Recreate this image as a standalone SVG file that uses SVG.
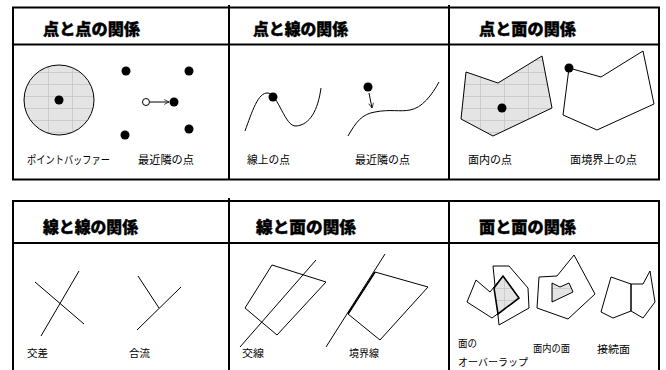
<svg xmlns="http://www.w3.org/2000/svg" width="666" height="370" viewBox="0 0 666 370">
<style>
.frame{fill:none;stroke:#000;stroke-width:2}
.title{font-family:"Noto Sans CJK JP","Liberation Sans",sans-serif;font-weight:900;font-size:16px;fill:#000;stroke:#000;stroke-width:0.4}
.lbl{font-family:"Liberation Sans","Noto Sans CJK JP",sans-serif;font-size:11px;fill:#000}
.lbl2{font-family:"Liberation Sans","Noto Sans CJK JP",sans-serif;font-size:10px;fill:#000}
.ln{fill:none;stroke:#000;stroke-width:1}
.shade{fill:url(#grid);stroke:#000;stroke-width:1}
.dot{fill:#000}
</style>
<defs>
<pattern id="grid" patternUnits="userSpaceOnUse" width="24" height="12">
<rect width="24" height="12" fill="#e4e4e4"/>
<path d="M0,0.5H24M0.5,0V12" stroke="#bcbcbc" stroke-width="0.6"/>
</pattern>
<marker id="arr" viewBox="0 0 10 10" refX="9" refY="5" markerWidth="6" markerHeight="6" orient="auto" markerUnits="userSpaceOnUse">
<path d="M1,1L9,5L1,9" fill="none" stroke="#000" stroke-width="1.2"/>
</marker>
</defs>
<rect width="666" height="370" fill="#fff"/>

<g id="frames">
<rect class="frame" x="13" y="7.5" width="646" height="172"/>
<line class="frame" x1="13" y1="44.5" x2="659" y2="44.5"/>
<line class="frame" x1="229" y1="5" x2="229" y2="179.5"/>
<line class="frame" x1="449" y1="5" x2="449" y2="179.5"/>
<path class="frame" d="M13,372V201H659V372"/>
<line class="frame" x1="13" y1="243" x2="659" y2="243"/>
<line class="frame" x1="229" y1="198" x2="229" y2="372"/>
<line class="frame" x1="449" y1="201" x2="449" y2="372"/>
</g>

<g id="point-point">
<text class="title" x="43" y="35" textLength="97" lengthAdjust="spacingAndGlyphs">点と点の関係</text>
<circle cx="59" cy="100" r="35" class="shade"/>
<circle class="dot" cx="59" cy="100" r="4.5"/>
<circle class="dot" cx="126" cy="71" r="4.5"/>
<circle class="dot" cx="189" cy="71" r="4.5"/>
<circle class="dot" cx="174" cy="102" r="4.5"/>
<circle class="dot" cx="189" cy="129" r="4.5"/>
<circle class="dot" cx="125" cy="135" r="4.5"/>
<circle cx="146" cy="102" r="3.5" fill="#fff" stroke="#000" stroke-width="1"/>
<text class="lbl" x="27" y="164" textLength="83" lengthAdjust="spacingAndGlyphs">ポイントバッファー</text>
<text class="lbl" x="138" y="164" textLength="56" lengthAdjust="spacingAndGlyphs">最近隣の点</text>
</g>

<g id="point-line">
<text class="title" x="253" y="35" textLength="95" lengthAdjust="spacingAndGlyphs">点と線の関係</text>
<path class="ln" d="M245,131 C252,112 258,92 268,93 C278,94 285,127 296,126 C310,125 318,110 321,88"/>
<circle class="dot" cx="273" cy="97" r="4.5"/>
<path class="ln" d="M348,136 C356,122 362,114 375,112 C390,109 400,112 410,110 C422,108 432,95 439,82"/>
<circle class="dot" cx="368" cy="87" r="4.5"/>
<text class="lbl" x="247" y="164" textLength="43" lengthAdjust="spacingAndGlyphs">線上の点</text>
<text class="lbl" x="355" y="164" textLength="55" lengthAdjust="spacingAndGlyphs">最近隣の点</text>
</g>

<g id="point-area">
<text class="title" x="479" y="35" textLength="97" lengthAdjust="spacingAndGlyphs">点と面の関係</text>
<polygon class="shade" points="466,72 498,83 542,56 552,108 493,136 461,119"/>
<circle class="dot" cx="502" cy="108" r="4.5"/>
<polygon class="ln" points="569,68 601,77 643,51 654,104 597,130 563,115"/>
<circle class="dot" cx="569" cy="68" r="4.5"/>
<text class="lbl" x="468" y="164" textLength="44" lengthAdjust="spacingAndGlyphs">面内の点</text>
<text class="lbl" x="570" y="164" textLength="67" lengthAdjust="spacingAndGlyphs">面境界上の点</text>
</g>

<g id="line-line">
<text class="title" x="43" y="233" textLength="95" lengthAdjust="spacingAndGlyphs">線と線の関係</text>
<line class="ln" x1="35" y1="282" x2="84" y2="324"/>
<line class="ln" x1="79" y1="271" x2="41" y2="336"/>
<line class="ln" x1="138" y1="276" x2="159" y2="308"/>
<line class="ln" x1="181" y1="287" x2="137" y2="330"/>
<text class="lbl2" x="27" y="357" textLength="21" lengthAdjust="spacingAndGlyphs">交差</text>
<text class="lbl2" x="129" y="357" textLength="21" lengthAdjust="spacingAndGlyphs">合流</text>
</g>

<g id="line-area">
<text class="title" x="256" y="233" textLength="100" lengthAdjust="spacingAndGlyphs">線と面の関係</text>
<polygon class="ln" points="272,265 326,282 277,335 245,308"/>
<line class="ln" x1="240" y1="347" x2="316" y2="260"/>
<polygon class="ln" points="375,272 428,287 380,340 348,314"/>
<line class="ln" x1="326" y1="347" x2="385" y2="254"/>
<line x1="348" y1="314" x2="375" y2="272" stroke="#000" stroke-width="1.6"/>
<text class="lbl2" x="349" y="357" textLength="30" lengthAdjust="spacingAndGlyphs">境界線</text>
<text class="lbl2" x="242" y="357" textLength="22" lengthAdjust="spacingAndGlyphs">交線</text>
</g>

<g id="area-area">
<text class="title" x="479" y="233" textLength="97" lengthAdjust="spacingAndGlyphs">面と面の関係</text>
<polygon class="ln" points="467,302 476,280 490,292 503,276 519,298 492,318"/>
<polygon class="ln" points="493,266 509,266 528,288 529,308 499,325"/>
<polygon points="494,288 503,276 519,298 498,314" fill="url(#grid)" stroke="#000" stroke-width="1.6"/>
<polygon class="ln" points="539,277 557,276 574,255 595,294 568,319 537,308"/>
<polygon class="shade" points="552,283 560,287 569,283 573,292 552,302"/>
<polygon class="ln" points="611,277 631,284 631,311 613,318 601,312"/>
<polygon class="ln" points="631,284 643,284 650,271 655,302 643,318 631,311"/>
<text class="lbl2" x="458" y="347" textLength="19" lengthAdjust="spacingAndGlyphs">面の</text>
<text class="lbl2" x="458" y="366" textLength="70" lengthAdjust="spacingAndGlyphs">オーバーラップ</text>
<text class="lbl2" x="533" y="352" textLength="37" lengthAdjust="spacingAndGlyphs">面内の面</text>
<text class="lbl2" x="597" y="353" textLength="33" lengthAdjust="spacingAndGlyphs">接続面</text>
</g>

<g id="connectors">
<line class="ln" x1="150" y1="102" x2="169" y2="102" marker-end="url(#arr)"/>
<line class="ln" x1="369" y1="93" x2="372" y2="108" marker-end="url(#arr)"/>
</g>
</svg>
